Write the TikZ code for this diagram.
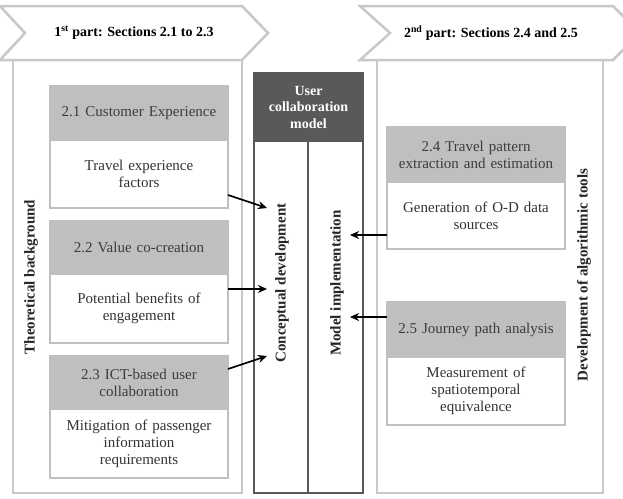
\documentclass[tikz,border=0pt]{standalone}
\usepackage{fontspec}
\setmainfont{Liberation Serif}
\usetikzlibrary{calc}
\usetikzlibrary{arrows.meta}

\definecolor{framegray}{RGB}{200,200,200}
\definecolor{headgray}{RGB}{191,191,191}
\definecolor{darkhead}{RGB}{89,89,89}
\definecolor{inkgray}{RGB}{60,60,60}

\tikzset{
	frame/.style={draw=framegray, line width=2.5pt, fill=white},
	head/.style={fill=headgray, draw=headgray, line width=2.5pt, text=inkgray, anchor=north west,
		align=center, inner sep=0pt, outer sep=0pt, text width=174pt, minimum width=178pt,
		font=\fontsize{15}{17}\selectfont},
	body/.style={head, fill=white, text=black!80},
	col/.style={draw=darkhead, line width=2pt, fill=white, anchor=north west,
		minimum height=352pt, inner sep=0pt, outer sep=0pt},
	vlabel/.style={rotate=90, font=\fontsize{15}{17}\selectfont\bfseries, text=black!85},
	link/.style={-{Stealth[length=9pt,width=8pt]}, line width=1.7pt}
}

\begin{document}
\begin{tikzpicture}[x=1pt, y=-1pt]
	\useasboundingbox (0,0) rectangle (623,498);
	\clip (0,0) rectangle (623,498);
	\draw[frame] (13,60) rectangle (242,493);
	\draw[frame] (377,60) rectangle (603,493);
	\draw[frame] (0,6) -- (242,6) -- (268,33) -- (242,60) -- (0,60) -- (25,33) -- cycle;
	\node[font=\fontsize{14}{16}\selectfont\bfseries] (p1) at (134,33) {1\textsuperscript{st} part: Sections 2.1 to 2.3};
	\draw[frame] (360,6) -- (613,6) -- (640,33) -- (613,60) -- (360,60) -- (390,33) -- cycle;
	\node[font=\fontsize{14}{16}\selectfont\bfseries] (p2) at (491,33) {2\textsuperscript{nd} part: Sections 2.4 and 2.5};

	\node[vlabel] (tb) at (31,277) {Theoretical background};
	\node[vlabel] (dat) at (584,275) {Development of algorithmic tools};

	\node[head, minimum height=54pt] (h1) at (50,86) {2.1 Customer Experience};
	\node[body, minimum height=68pt] (b1) at (h1.south west) {Travel experience\\factors};
	\node[head, minimum height=53pt] (h2) at (50,221) {2.2 Value co-creation};
	\node[body, minimum height=69pt] (b2) at (h2.south west) {Potential benefits of\\engagement};
	\node[head, minimum height=53pt] (h3) at (50,356) {2.3 ICT-based user\\collaboration};
	\node[body, minimum height=69pt] (b3) at (h3.south west) {Mitigation of passenger\\information\\requirements};

	\node[head, minimum height=55pt] (h4) at (387,127) {2.4 Travel pattern\\extraction and estimation};
	\node[body, minimum height=67pt] (b4) at (h4.south west) {Generation of O-D data\\sources};
	\node[head, minimum height=55pt] (h5) at (387,302) {2.5 Journey path analysis};
	\node[body, minimum height=68pt] (b5) at (h5.south west) {Measurement of\\spatiotemporal\\equivalence};

	\node[draw=darkhead, fill=darkhead, line width=2pt, anchor=north west, minimum width=109pt,
		minimum height=68pt, inner sep=0pt, outer sep=0pt, align=center, text=white,
		font=\fontsize{14}{16.5}\selectfont\bfseries] (ucm) at (254,73) {User\\collaboration\\model};
	\node[col, minimum width=54pt] (cd) at (ucm.south west) {};
	\node[col, minimum width=55pt] (mi) at (cd.north east) {};
	\node[vlabel] (cdt) at (282,283) {Conceptual development};
	\node[vlabel] (mit) at (337,283) {Model implementation};

	\coordinate (t1) at ($(cd.north west)+(13,67)$);
	\coordinate (t2) at ($(cd.north west)+(13,148)$);
	\coordinate (t3) at ($(cd.north west)+(13,215)$);
	\coordinate (t4) at ($(mi.north west)+(42,94)$);
	\coordinate (t5) at ($(mi.north west)+(42,176)$);
	\draw[link] ($(b1.south east)+(0,-13)$) -- (t1);
	\draw[link] ($(b2.north east)+(0,15)$) -- (t2);
	\draw[link] ($(h3.north east)+(0,13)$) -- (t3);
	\draw[link] ($(b4.south west)+(0,-14)$) -- (t4);
	\draw[link] ($(h5.north west)+(0,15)$) -- (t5);
\end{tikzpicture}
\end{document}
